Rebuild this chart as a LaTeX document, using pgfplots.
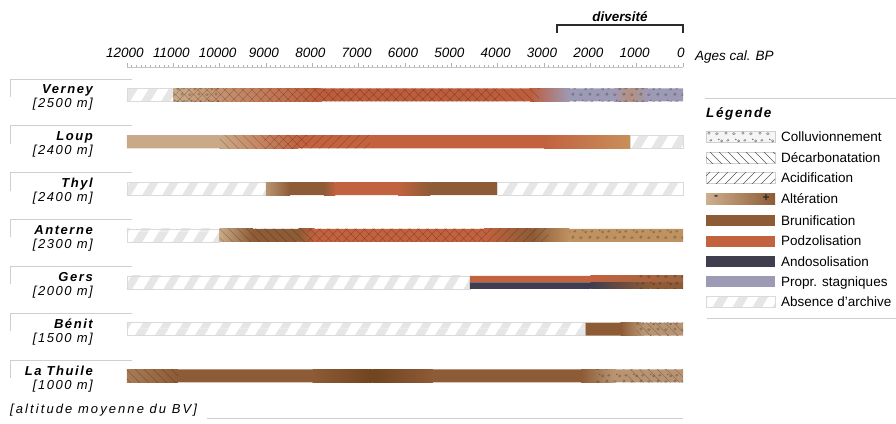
\documentclass[border=0pt]{standalone}
\usepackage{pgfplots}
\pgfplotsset{compat=1.18}
\usepackage{fontspec}
\setmainfont{Liberation Sans}
\newfontfamily\lbl[LetterSpace=12]{Liberation Sans}
\newfontfamily\lblw[LetterSpace=16]{Liberation Sans}
\usetikzlibrary{patterns}

% soil-process colours
\definecolor{tanA}{HTML}{C9A987}
\definecolor{tanB}{HTML}{B89572}
\definecolor{tanC}{HTML}{B89472}
\definecolor{tanL}{HTML}{CDB08E}
\definecolor{brun}{HTML}{8D5B36}
\definecolor{brunD}{HTML}{70441F}
\definecolor{brunL}{HTML}{BF9262}
\definecolor{brunL2}{HTML}{A87B57}
\definecolor{brunM}{HTML}{9C6540}
\definecolor{podz}{HTML}{C2623F}
\definecolor{podzD}{HTML}{BD5D3B}
\definecolor{ocre}{HTML}{C98F5B}
\definecolor{ando}{HTML}{403D4E}
\definecolor{stag}{HTML}{9D9AB6}
\definecolor{mauve}{HTML}{B4907F}
\definecolor{absgray}{HTML}{E6E6E6}
\definecolor{absline}{HTML}{DADADA}
\definecolor{rulec}{HTML}{CFCFCF}
\definecolor{ink}{HTML}{2B2B2B}

% hatchings
\pgfdeclarepatternformonly{decarb}{\pgfqpoint{-1pt}{-1pt}}{\pgfqpoint{10pt}{10pt}}{\pgfqpoint{9pt}{9pt}}{%
  \pgfsetlinewidth{0.4pt}%
  \pgfpathmoveto{\pgfqpoint{0pt}{9pt}}\pgfpathlineto{\pgfqpoint{9.1pt}{-0.1pt}}\pgfusepath{stroke}}
\pgfdeclarepatternformonly{acid}{\pgfqpoint{-1pt}{-1pt}}{\pgfqpoint{10pt}{10pt}}{\pgfqpoint{9pt}{9pt}}{%
  \pgfsetlinewidth{0.4pt}%
  \pgfpathmoveto{\pgfqpoint{0pt}{0pt}}\pgfpathlineto{\pgfqpoint{9.1pt}{9.1pt}}\pgfusepath{stroke}}
\pgfdeclarepatternformonly{gap}{\pgfqpoint{0pt}{0pt}}{\pgfqpoint{20pt}{32pt}}{\pgfqpoint{20pt}{32pt}}{%
  \pgfpathmoveto{\pgfqpoint{-20pt}{0pt}}\pgfpathlineto{\pgfqpoint{-11pt}{0pt}}%
  \pgfpathlineto{\pgfqpoint{9pt}{32pt}}\pgfpathlineto{\pgfqpoint{0pt}{32pt}}\pgfpathclose
  \pgfpathmoveto{\pgfqpoint{0pt}{0pt}}\pgfpathlineto{\pgfqpoint{9pt}{0pt}}%
  \pgfpathlineto{\pgfqpoint{29pt}{32pt}}\pgfpathlineto{\pgfqpoint{20pt}{32pt}}\pgfpathclose
  \pgfusepath{fill}}
\pgfdeclarepatternformonly{colluv}{\pgfqpoint{0pt}{0pt}}{\pgfqpoint{17pt}{13pt}}{\pgfqpoint{17pt}{13pt}}{%
  \pgfsetlinewidth{0.4pt}%
  \pgfpathellipse{\pgfqpoint{3pt}{3.5pt}}{\pgfqpoint{1.4pt}{0.3pt}}{\pgfqpoint{-0.2pt}{1pt}}%
  \pgfpathcircle{\pgfqpoint{8pt}{9.5pt}}{1.1pt}%
  \pgfpathcircle{\pgfqpoint{12.5pt}{4pt}}{1.3pt}%
  \pgfpathellipse{\pgfqpoint{14.5pt}{10pt}}{\pgfqpoint{1.2pt}{0.4pt}}{\pgfqpoint{0pt}{0.9pt}}%
  \pgfpathcircle{\pgfqpoint{5pt}{11pt}}{0.6pt}%
  \pgfusepath{stroke}}

\tikzset{
  absent/.style={preaction={fill=white}, pattern=gap, pattern color=absgray, draw=absline, line width=0.5pt},
  decp/.style={pattern=decarb, pattern color=black, opacity=0.22},
  acidp/.style={pattern=acid, pattern color=black, opacity=0.22},
  collp/.style={pattern=colluv, pattern color=black, opacity=0.35},
}

% one stretch of a core: y-bottom, y-top, older age, younger age, style
\newcommand{\seg}[5]{\addplot[draw=none, mark=none, #5] coordinates {(#3,#1) (#4,#1) (#4,#2) (#3,#2) (#3,#1)};}
\newcommand{\rowA}{\seg{-1.139}{-0.861}}
\newcommand{\rowB}{\seg{-2.139}{-1.861}}
\newcommand{\rowC}{\seg{-3.139}{-2.861}}
\newcommand{\rowD}{\seg{-4.139}{-3.861}}
\newcommand{\rowE}{\seg{-5.139}{-4.861}}
\newcommand{\rowEt}{\seg{-5.0}{-4.861}}
\newcommand{\rowEb}{\seg{-5.139}{-5.0}}
\newcommand{\rowF}{\seg{-6.139}{-5.861}}
\newcommand{\rowG}{\seg{-7.139}{-6.861}}

\newcommand{\namefont}{\lbl\bfseries\itshape\fontsize{13}{15}\selectfont}
\newcommand{\altfont}{\lbl\itshape\fontsize{13}{15}\selectfont}
\newcommand{\legfont}{\fontsize{13.5}{15}\selectfont}

% site label with its frame; #1 = row centre (from the top)
\newcommand{\site}[3]{%
  \draw[rulec, line width=0.6pt] (132,#1-16) -- (10,#1-16) -- (10,#1+2);
  \node[anchor=base east, inner sep=0pt, font=\namefont] at (93,#1-1) {#2};
  \node[anchor=base east, inner sep=0pt, font=\altfont] at (93,#1+13) {#3};}

\newcommand{\swatch}[3]{%
  \path[#2] (706,#1-5.5) rectangle (775,#1+5.5);
  \node[anchor=base west, inner sep=0pt, font=\legfont] at (781,#1+4.8) {#3};}

\begin{document}
\begin{tikzpicture}
\path[use as bounding box] (0,0) rectangle (896pt,-423pt);
\begin{axis}[
  at={(127pt,-67pt)}, anchor=north west,
  scale only axis, width=556pt, height=332.4pt,
  xmin=0, xmax=12000, x dir=reverse,
  ymin=-7.5, ymax=-0.4045,
  enlargelimits=false, clip=false,
  axis x line=top, axis y line=none,
  axis line style={-, draw=gray!45, line width=0.4pt},
  xtick={0,1000,...,12000}, minor x tick num=9,
  tick align=outside,
  major tick length=4pt, minor tick length=2.2pt,
  tick style={draw=gray!60, line width=0.4pt},
  scaled x ticks=false,
  xticklabel style={font=\fontsize{13.5}{15}\selectfont\itshape, anchor=base, yshift=5pt, xshift=-2pt},
  /pgf/number format/1000 sep={},
  /pgf/number format/assume math mode=true,
]
% Verney
\rowA{12000}{11000}{absent}
\rowA{11000}{7800}{left color=tanA, right color=podzD}
\rowA{7800}{3300}{fill=podzD}
\rowA{3300}{2450}{left color=podzD, right color=stag}
\rowA{2450}{1500}{fill=stag}
\rowA{1500}{1150}{left color=stag, right color=mauve}
\rowA{1150}{750}{left color=mauve, right color=stag}
\rowA{750}{0}{fill=stag}
\rowA{11000}{3950}{acidp}
\rowA{11000}{3100}{decp}
\rowA{11000}{10000}{collp}
\rowA{2450}{0}{collp}
% Loup
\rowB{12000}{10000}{fill=tanA}
\rowB{10000}{8300}{left color=tanA, right color=podz}
\rowB{8300}{3000}{fill=podz}
\rowB{3000}{1130}{left color=podz, right color=ocre}
\rowB{1130}{0}{absent}
\rowB{10000}{8100}{decp}
\rowB{9050}{6750}{acidp}
% Thyl
\rowC{12000}{9000}{absent}
\rowC{9000}{8480}{left color=tanB, right color=brun}
\rowC{8480}{7750}{fill=brun}
\rowC{7750}{7500}{left color=brun, right color=podz}
\rowC{7500}{6150}{fill=podz}
\rowC{6150}{5450}{left color=podz, right color=brun}
\rowC{5450}{4000}{fill=brun}
\rowC{4000}{0}{absent}
% Anterne
\rowD{12000}{10000}{absent}
\rowD{10000}{9280}{left color=tanA, right color=brun}
\rowD{9280}{8300}{fill=brun}
\rowD{8300}{7950}{left color=brun, right color=podz}
\rowD{7950}{4300}{fill=podz}
\rowD{4300}{3250}{left color=podz, right color=brun}
\rowD{3250}{2450}{left color=brun, right color=brunL}
\rowD{2450}{0}{fill=brunL}
\rowD{10000}{4250}{decp}
\rowD{8100}{2900}{acidp}
\rowD{2450}{0}{collp}
% Gers
\rowE{12000}{4600}{absent}
\rowEt{4600}{2000}{fill=podz}
\rowEt{2000}{0}{left color=podz, right color=brunM}
\rowEb{4600}{2000}{fill=ando}
\rowEb{2000}{700}{left color=ando, right color=brun}
\rowEb{700}{0}{fill=brun}
\rowE{1000}{0}{collp}
% Benit
\rowF{12000}{2100}{absent}
\rowF{2100}{1350}{fill=brun}
\rowF{1350}{900}{left color=brun, right color=tanC}
\rowF{900}{0}{fill=tanC}
\rowF{1000}{0}{collp}
\rowF{1000}{0}{decp}
% La Thuile
\rowG{12000}{10900}{left color=brunL2, right color=brun}
\rowG{10900}{8000}{fill=brun}
\rowG{8000}{6700}{left color=brun, right color=brunD}
\rowG{6700}{5400}{left color=brunD, right color=brun}
\rowG{5400}{2200}{fill=brun}
\rowG{2200}{1500}{left color=brun, right color=tanC}
\rowG{1500}{0}{fill=tanC}
\rowG{12000}{10900}{decp}
\rowG{1900}{0}{collp}
\rowG{1200}{0}{decp}
\end{axis}

\begin{scope}[x=1pt, y=-1pt]
% time axis annotations
\node[anchor=base west, inner sep=0pt, font=\fontsize{13.5}{15}\selectfont\itshape] at (695,60) {Ages cal. BP};
\draw[ink, line width=1.4pt] (557,33) -- (557,25) -- (683,25) -- (683,33);
\node[anchor=base, inner sep=0pt, font=\fontsize{13.4}{15}\selectfont\bfseries\itshape] at (620,21) {diversité};

% sites
\site{94.9}{Verney}{[2500 m]}
\site{141.75}{Loup}{[2400 m]}
\site{188.6}{Thyl}{[2400 m]}
\site{235.45}{Anterne}{[2300 m]}
\site{282.3}{Gers}{[2000 m]}
\site{329.15}{Bénit}{[1500 m]}
\site{376.0}{La Thuile}{[1000 m]}
\node[anchor=base west, inner sep=0pt, font=\lblw\itshape\fontsize{13}{15}\selectfont] at (10,413) {[altitude moyenne du BV]};
\draw[rulec, line width=0.6pt] (207,418) -- (683,418);

% legend
\draw[rulec, line width=0.6pt] (705,98) -- (896,98);
\node[anchor=base west, inner sep=0pt, font=\lbl\bfseries\itshape\fontsize{13.5}{16}\selectfont] at (706,117) {Légende};
\swatch{137}{fill=black!4, draw=rulec}{Colluvionnement}
\path[pattern=colluv, pattern color=black!60] (706,131.5) rectangle (775,142.5);
\swatch{157.5}{fill=white, draw=rulec}{Décarbonatation}
\path[pattern=decarb, pattern color=black!65] (706,152) rectangle (775,163);
\swatch{178}{fill=white, draw=rulec}{Acidification}
\path[pattern=acid, pattern color=black!65] (706,172.5) rectangle (775,183.5);
\swatch{198.5}{left color=tanL, right color=brun}{Altération}
\node[font=\bfseries\fontsize{12}{12}\selectfont, text=ink] at (716,197.5) {-};
\node[font=\bfseries\fontsize{12}{12}\selectfont, text=ink] at (766,197.5) {+};
\swatch{220.5}{fill=brun}{Brunification}
\swatch{241}{fill=podz}{Podzolisation}
\swatch{261.5}{fill=ando}{Andosolisation}
\swatch{281.5}{fill=stag}{Propr. stagniques}
\swatch{301.5}{absent}{Absence d'archive}
\draw[rulec, line width=0.6pt] (707,318) -- (896,318);
\end{scope}
\end{tikzpicture}
\end{document}
